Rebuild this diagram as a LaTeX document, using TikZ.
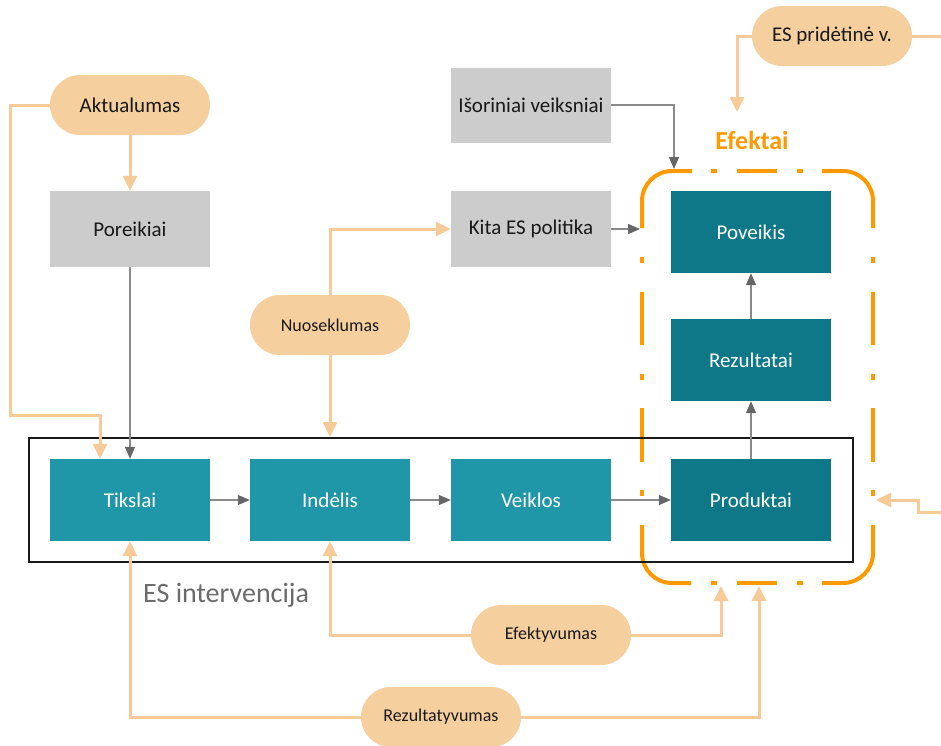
\documentclass[tikz,border=0pt]{standalone}
\usepackage{fontspec}
\setmainfont{Carlito}
\usetikzlibrary{arrows.meta}
\definecolor{pillc}{HTML}{F6CF9E}
\definecolor{olinec}{HTML}{F7CB97}
\definecolor{grayb}{HTML}{CCCCCC}
\definecolor{tealL}{HTML}{1F97A9}
\definecolor{tealD}{HTML}{0E7888}
\definecolor{eforc}{HTML}{FF9900}
\definecolor{garrc}{HTML}{8A8A8A}
\definecolor{garrh}{HTML}{666666}
\definecolor{txtg}{HTML}{6B6B6B}
\begin{document}
\begin{tikzpicture}[x=1pt,y=-1pt,
  pillnode/.style={fill=pillc, rounded corners=29.9pt, minimum width=160pt, minimum height=60pt, inner sep=0pt, font=\fontsize{21}{25}\selectfont, text=black!90},
  smallpill/.style={pillnode, font=\fontsize{18}{22}\selectfont},
  graynode/.style={fill=grayb, minimum width=160pt, minimum height=76pt, inner sep=0pt, font=\fontsize{21}{25}\selectfont, text=black!90},
  tealnode/.style={fill=tealL, minimum width=160pt, minimum height=82pt, inner sep=0pt, text=white, font=\fontsize{21}{25}\selectfont},
  darknode/.style={tealnode, fill=tealD},
  oarr/.style={draw=olinec, line width=3pt, -{Triangle[length=15pt,width=14pt]}},
  oln/.style={draw=olinec, line width=3pt},
  garrow/.style={draw=garrc, line width=1.2pt, -{Triangle[length=12pt,width=10pt,color=garrh]}},
  efk/.style={draw=eforc, line width=4pt},
]
\useasboundingbox (0,0) rectangle (941,745);
\fill[white] (0,0) rectangle (941,745);

% Efektai frame (long dash - dot)
\draw[efk, rounded corners=30pt] (692,171) -- (642,171) -- (642,228);
\draw[efk, rounded corners=30pt] (822,171) -- (873,171) -- (873,228);
\draw[efk, rounded corners=30pt] (642,525) -- (642,583) -- (691,583);
\draw[efk, rounded corners=30pt] (873,525) -- (873,583) -- (822,583);
\foreach \yy in {171,583} {
  \draw[efk] (737,\yy) -- (777,\yy);
  \draw[efk] (711,\yy) -- (717,\yy);
  \draw[efk] (797,\yy) -- (803,\yy);
}
\foreach \xx in {642,873} {
  \draw[efk] (\xx,292) -- (\xx,345);
  \draw[efk] (\xx,408) -- (\xx,462);
  \draw[efk] (\xx,257) -- (\xx,263);
  \draw[efk] (\xx,374) -- (\xx,380);
  \draw[efk] (\xx,490) -- (\xx,496);
}

% nodes
\node[pillnode] (esp) at (832,36) {ES pridėtinė v.};
\node[font=\bfseries\fontsize{26}{30}\selectfont, text=eforc] (eft) at (752,140) {Efektai};
\node[graynode, minimum height=75pt] (isor) at (531,105) {Išoriniai veiksniai};
\node[graynode] (kita) at (531,229) {Kita ES politika};
\node[graynode] (por) at (130,229) {Poreikiai};
\node[pillnode] (akt) at (130,105) {Aktualumas};
\node[smallpill] (nuo) at (330,325) {Nuoseklumas};
\node[draw=black!90, line width=2pt, minimum width=824pt, minimum height=124pt, inner sep=0pt] (esint) at (441,500) {};
\node[tealnode] (tik) at (130,500) {Tikslai};
\node[tealnode] (ind) at (330,500) {Indėlis};
\node[tealnode] (vei) at (531,500) {Veiklos};
\node[darknode] (pro) at (751,500) {Produktai};
\node[darknode] (rezt) at (751,360) {Rezultatai};
\node[darknode] (pov) at (751,232) {Poveikis};
\node[text=txtg, font=\fontsize{28}{32}\selectfont, anchor=west, inner sep=0pt] (esl) at (143,595) {ES intervencija};
\node[smallpill] (efe) at (551,635) {Efektyvumas};
\node[smallpill] (rez) at (441,717) {Rezultatyvumas};

% coordinates on the Efektai frame
\coordinate (efTop) at (674,169);
\coordinate (efLeft) at (640,229);
\coordinate (efB1) at (721,586);
\coordinate (efB2) at (759,586);
\coordinate (efR) at (876,500);
\coordinate (espT) at (737,112);
\coordinate (espR) at (941,36);
\coordinate (rIn) at (941,512);
\coordinate (rStep) at (918,512);
\coordinate (aktC) at (10,415);

% gray connectors
\draw[garrow] (tik) -- (ind);
\draw[garrow] (ind) -- (vei);
\draw[garrow] (vei) -- (pro);
\draw[garrow] (pro) -- (rezt);
\draw[garrow] (rezt) -- (pov);
\draw[garrow] (por) -- (tik);
\draw[garrow] (isor.east) -| (efTop);
\draw[garrow] (kita.east) -- (efLeft);

% orange connectors
\draw[oarr] (akt) -- (por);
\draw[oarr] (akt.west) -| (aktC) -| ([xshift=-30pt]tik.north);
\draw[oarr] (nuo.north) |- (kita.west);
\draw[oarr] (nuo.south) -- (nuo.south |- esint.north);
\draw[oarr] (efe.west) -| (ind.south);
\draw[oarr] (efe.east) -| (efB1);
\draw[oarr] (rez.west) -| (tik.south);
\draw[oarr] (rez.east) -| (efB2);
\draw[oarr] (esp.west) -| (espT);
\draw[oln] (esp.east) -- (espR);
\draw[oarr] (rIn) -- (rStep) |- (efR);
\end{tikzpicture}
\end{document}
